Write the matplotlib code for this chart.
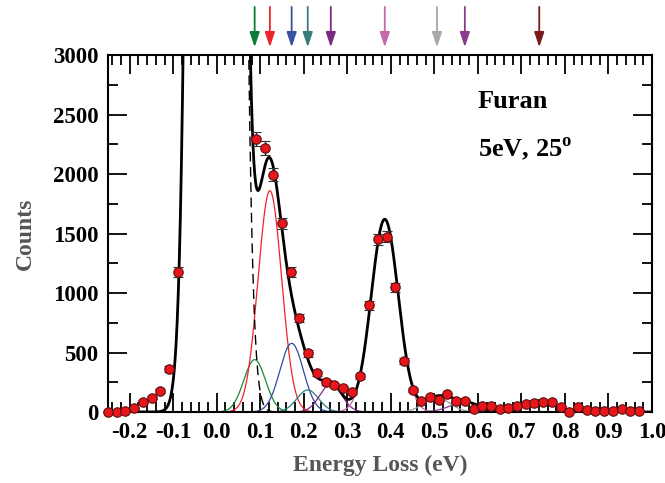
import matplotlib
matplotlib.use("Agg")
import matplotlib.pyplot as plt
import numpy as np

plt.rcParams['font.family'] = ['Liberation Serif', 'DejaVu Serif']
plt.rcParams['font.weight'] = 'bold'
plt.rcParams['mathtext.fontset'] = 'custom'
plt.rcParams['mathtext.rm'] = 'Liberation Serif:bold'

# measured spectrum
energy = [-0.25, -0.23, -0.21, -0.19, -0.17, -0.15, -0.13, -0.11, -0.09,
          0.09, 0.11, 0.13, 0.15, 0.17, 0.19, 0.21, 0.23, 0.25, 0.27, 0.29,
          0.31, 0.33, 0.35, 0.37, 0.39, 0.41, 0.43, 0.45, 0.47, 0.49, 0.51,
          0.53, 0.55, 0.57, 0.59, 0.61, 0.63, 0.65, 0.67, 0.69, 0.71, 0.73,
          0.75, 0.77, 0.79, 0.81, 0.83, 0.85, 0.87, 0.89, 0.91, 0.93, 0.95,
          0.97]
counts = [0, 2, 10, 30, 87, 120, 176, 361, 1179,
          2293, 2220, 1993, 1585, 1179, 787, 493, 325, 249, 227, 200,
          171, 302, 896, 1451, 1473, 1048, 431, 182, 92, 123, 101,
          148, 92, 92, 25, 50, 50, 25, 34, 50, 67, 76,
          84, 81, 45, 3, 39, 19, 8, 11, 11, 28, 6,
          6]

# elastic peak
elastic_center = -0.002
elastic_amp = 100000
elastic_sigma = 0.0285

# vibrational components (fitted gaussians)
peak_centers = [0.087, 0.122, 0.172, 0.209, 0.262, 0.386, 0.506, 0.570, 0.741]
peak_amps = [440, 1860, 577, 185, 235, 1620, 120, 80, 95]
peak_sigmas = [0.025, 0.027, 0.027, 0.025, 0.025, 0.031, 0.030, 0.035, 0.035]
peak_colors = ['#17873d', '#f0222a', '#34479e', '#2f7f7a', '#7d2a84',
               '#c466ae', '#9a9a9a', '#8a3a90', '#7d1717']
arrow_colors = ['#0e7a3a', '#ee2228', '#3b4fa0', '#3a7c78', '#7b2a80',
                '#c46aae', '#a8a8a8', '#8a3c8c', '#7a1a1a']


def gauss(x, a, c, s):
    return a * np.exp(-(x - c) ** 2 / (2 * s ** 2))


xx = np.linspace(-0.25, 1.0, 2000)
elastic = gauss(xx, elastic_amp, elastic_center, elastic_sigma)
comps = [gauss(xx, a, c, s) for a, c, s in zip(peak_amps, peak_centers, peak_sigmas)]
total = elastic + np.sum(comps, axis=0)

fig = plt.figure(figsize=(6.65, 4.83), dpi=100)
ax = fig.add_axes([0.1624, 0.147, 0.818, 0.739])

for comp, col in zip(comps, peak_colors):
    ax.plot(xx, comp, color=col, lw=0.9)
ax.plot(xx, elastic, color='k', lw=1.0, ls=(0, (7, 4)))
ax.plot(xx, total, color='k', lw=2.0)

counts = np.array(counts)
err = 1.2 * np.sqrt(counts)
ax.errorbar(energy, counts, yerr=err, fmt='o', color='#333333', ecolor='#333333',
            elinewidth=1, capsize=3.5, capthick=1,
            mfc='#e8161b', mec='#5a1010', ms=6.8, mew=0.8, zorder=5,
            clip_on=False)

for c, col in zip(peak_centers, arrow_colors):
    ax.annotate('', xy=(c, 1.022), xytext=(c, 1.135),
                xycoords=('data', 'axes fraction'),
                textcoords=('data', 'axes fraction'),
                arrowprops=dict(arrowstyle='-|>,head_length=0.9,head_width=0.3',
                                color=col, lw=1.3, shrinkA=0, shrinkB=0))

ax.set_xlim(-0.25, 1.0)
ax.set_ylim(0, 3000)
ax.set_xticks(np.arange(-0.2, 1.01, 0.1))
ax.set_xticklabels(['-0.2', '-0.1', '0.0', '0.1', '0.2', '0.3', '0.4',
                    '0.5', '0.6', '0.7', '0.8', '0.9', '1.0'])
ax.set_xticks(np.arange(-0.24, 1.0, 0.02), minor=True)
ax.set_yticks(np.arange(0, 3001, 500))
ax.set_yticks(np.arange(0, 3001, 250), minor=True)
ax.tick_params(which='both', direction='in', top=True, right=True, width=1.3)
ax.tick_params(which='major', length=14, labelsize=16.5, pad=7)
ax.tick_params(which='minor', length=7)
for sp in ax.spines.values():
    sp.set_linewidth(1.5)

ax.set_xlabel('Energy Loss (eV)', fontsize=17, fontweight='bold',
              color='#555555', labelpad=9)
ax.set_ylabel('Counts', fontsize=17, fontweight='bold',
              color='#555555', labelpad=12)

ax.text(0.68, 0.87, 'Furan', transform=ax.transAxes, fontsize=19,
        fontweight='bold', va='center')
ax.text(0.68, 0.735, r'5eV, 25$^{\rm o}$', transform=ax.transAxes, fontsize=19,
        fontweight='bold', va='center')

fig.savefig('out.png', dpi=100)
